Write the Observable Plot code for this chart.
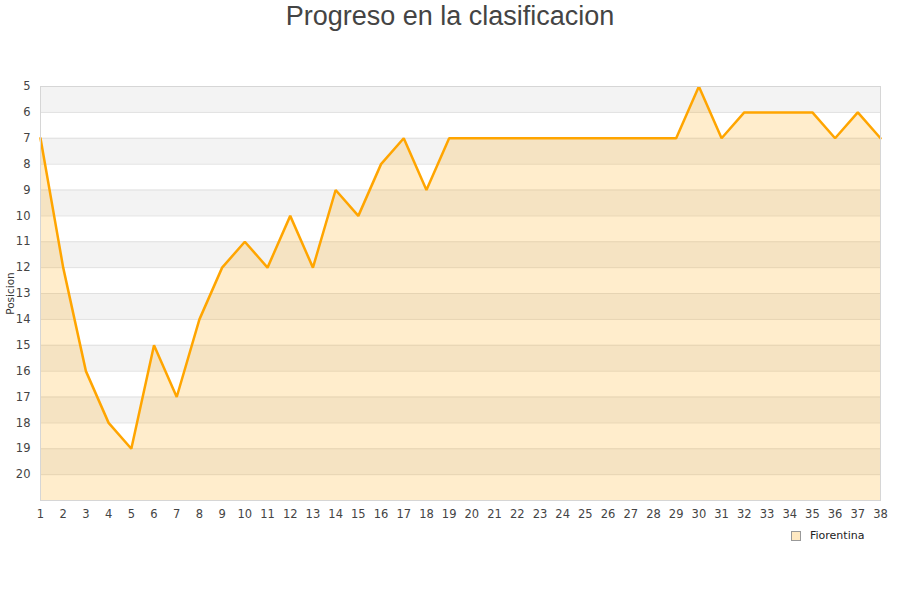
<!DOCTYPE html>
<html>
<head>
<meta charset="utf-8">
<script src="https://cdn.jsdelivr.net/npm/d3@7"></script>
<script src="https://cdn.jsdelivr.net/npm/@observablehq/plot@0.6"></script>
<style>
  body { margin: 0; background: #fff; }
  #wrap { position: relative; width: 900px; height: 600px; }
  #title { position: absolute; left: 0; top: 0; width: 900px; text-align: center;
    font-family: "Liberation Sans", Arial, sans-serif; font-size: 27px; color: #444; line-height: 32px; }
  #chart { position: absolute; left: 0; top: 40px; }
  #legend { position: absolute; left: 791px; top: 529px; font-family: "DejaVu Sans", sans-serif;
    font-size: 11px; color: #222; display: flex; align-items: center; }
  #legend .sw { width: 8px; height: 8px; background: #ffe9c2; border: 1px solid #999; margin-right: 9px; }
</style>
</head>
<body>
<div id="wrap">
  <div id="title">Progreso en la clasificacion</div>
  <div id="chart"></div>
  <div id="legend"><span class="sw"></span><span>Fiorentina</span></div>
</div>
<script>
const jornadas = d3.range(1, 39);
const posiciones = [7, 12, 16, 18, 19, 15, 17, 14, 12, 11, 12, 10, 12, 9, 10, 8, 7, 9, 7, 7,
  7, 7, 7, 7, 7, 7, 7, 7, 7, 5, 7, 6, 6, 6, 6, 7, 6, 7];
const yTicks = d3.range(5, 21);
const gridLines = d3.range(5, 22);
const grayBands = [5, 7, 9, 11, 13, 15, 17, 19];
const yMin = 5, yMax = 21;
const equipo = "Fiorentina";

const data = jornadas.map((j, i) => ({jornada: j, pos: posiciones[i], equipo}));

const chart = Plot.plot({
  width: 900,
  height: 560,
  marginTop: 46,
  marginBottom: 100,
  marginLeft: 40,
  marginRight: 20,
  style: { fontFamily: "DejaVu Sans, sans-serif", fontSize: "11.5px", color: "#444", background: "transparent" },
  x: { domain: [1, 38], ticks: jornadas, tickSize: 0, tickPadding: 9, label: null, tickFormat: d => d },
  y: { domain: [yMin, yMax], reverse: true, ticks: yTicks, tickSize: 0, tickPadding: 10, label: null, tickFormat: d => d },
  marks: [
    Plot.rect(grayBands, { x1: 1, x2: 38, y1: d => d, y2: d => d + 1, fill: "#f3f3f3" }),
    Plot.ruleY(gridLines, { stroke: "#e0e0e0", strokeWidth: 1 }),
    Plot.areaY(data, { x: "jornada", y1: yMax, y2: "pos", fill: "#ffa500", fillOpacity: 0.2 }),
    Plot.line(data, { x: "jornada", y: "pos", stroke: "#ffa500", strokeWidth: 2.5, strokeLinejoin: "miter" }),
    Plot.frame({ stroke: "#d6d6d6" }),
    Plot.axisX({ ticks: jornadas, tickSize: 0, tickPadding: 9, label: null, fill: "#444" }),
    Plot.axisY({ ticks: yTicks, tickSize: 0, tickPadding: 10, label: null, fill: "#444" }),
    Plot.text(["Posicion"], { frameAnchor: "left", dx: -30, rotate: -90, fontSize: 10.5, fill: "#333", textAnchor: "middle" })
  ]
});
document.getElementById("chart").appendChild(chart);
</script>
</body>
</html>
